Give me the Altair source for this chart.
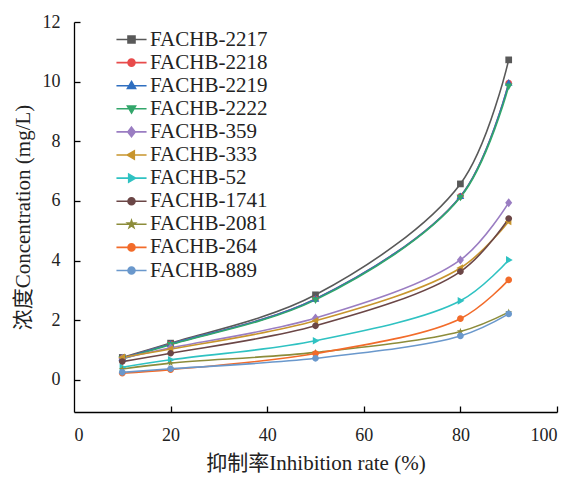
import altair as alt
import pandas as pd

rates = [10, 20, 50, 80, 90]
series = ["FACHB-2217", "FACHB-2218", "FACHB-2219", "FACHB-2222", "FACHB-359", "FACHB-333",
          "FACHB-52", "FACHB-1741", "FACHB-2081", "FACHB-264", "FACHB-889"]
values = {
    "FACHB-2217": [0.75, 1.23, 2.85, 6.57, 10.73],
    "FACHB-2218": [0.72, 1.20, 2.71, 6.15, 9.95],
    "FACHB-2219": [0.72, 1.20, 2.71, 6.15, 9.95],
    "FACHB-2222": [0.70, 1.18, 2.68, 6.12, 9.85],
    "FACHB-359": [0.72, 1.07, 2.07, 4.02, 5.94],
    "FACHB-333": [0.75, 1.03, 1.98, 3.75, 5.31],
    "FACHB-52": [0.42, 0.67, 1.31, 2.65, 4.02],
    "FACHB-1741": [0.61, 0.89, 1.81, 3.63, 5.41],
    "FACHB-2081": [0.36, 0.56, 0.92, 1.62, 2.27],
    "FACHB-264": [0.22, 0.34, 0.88, 2.05, 3.35],
    "FACHB-889": [0.25, 0.37, 0.72, 1.47, 2.21],
}
colors = ["#595959", "#e84b4b", "#2f6fc0", "#33a66b", "#9a7dc2", "#c8952d",
          "#2fc2c2", "#6b4646", "#8c8c3a", "#f26b2a", "#6a98cc"]

star = "M0,-1.1L0.25,-0.34L1.05,-0.34L0.4,0.13L0.65,0.9L0,0.42L-0.65,0.9L-0.4,0.13L-1.05,-0.34L-0.25,-0.34Z"
circle = "M1,0A1,1 0 1,1 -1,0A1,1 0 1,1 1,0Z"
marker_paths = [
    "M-1,-1L1,-1L1,1L-1,1Z",
    circle,
    "M0,-1.2L1.15,0.8L-1.15,0.8Z",
    "M0,1.2L1.15,-0.8L-1.15,-0.8Z",
    "M0,-1.35L1.05,0L0,1.35L-1.05,0Z",
    "M-1.2,0L0.8,-1.15L0.8,1.15Z",
    "M1.2,0L-0.8,-1.15L-0.8,1.15Z",
    circle,
    star,
    circle,
    circle,
]
legend_line = "M-4.3,0L4.3,0"
legend_paths = [legend_line + p for p in marker_paths]

y_ticks = [0, 2, 4, 6, 8, 10, 12]
x_ticks = [20, 40, 60, 80, 100]
x_labels = [0, 20, 40, 60, 80, 100]

rows = []
for s in series:
    for r, v in zip(rates, values[s]):
        rows.append({"rate": r, "conc": v, "series": s})
df = pd.DataFrame(rows)

FONT = "Liberation Serif, Noto Sans CJK SC, serif"

xs = alt.Scale(domain=[0, 100], nice=False, zero=False)
ys = alt.Scale(domain=[-1.08, 12], nice=False, zero=False)

x_main = alt.X("rate:Q", scale=xs, axis=alt.Axis(
    orient="bottom", values=x_labels, ticks=False, grid=False, labelPadding=14,
    title="抑制率Inhibition rate (%)", titlePadding=8, domainColor="#000", domainWidth=1.3))
y_main = alt.Y("conc:Q", scale=ys, axis=alt.Axis(
    orient="left", values=y_ticks, ticks=False, grid=False, labelPadding=14,
    title="浓度Concentration (mg/L)", titlePadding=9, domainColor="#000", domainWidth=1.3))

x_tick = alt.X("rate:Q", scale=xs, axis=alt.Axis(
    orient="top", offset=-390, values=x_ticks, labels=False, domain=False, grid=False,
    ticks=True, tickSize=6, tickColor="#000", tickWidth=1.3, title=None))
y_tick = alt.Y("conc:Q", scale=ys, axis=alt.Axis(
    orient="right", offset=-483, values=y_ticks, labels=False, domain=False, grid=False,
    ticks=True, tickSize=6, tickColor="#000", tickWidth=1.3, title=None))

lines = alt.Chart(df).mark_line(interpolate="catmull-rom", strokeWidth=1.6).encode(
    x=x_main, y=y_main,
    stroke=alt.Stroke("series:N", scale=alt.Scale(domain=series, range=colors), legend=None, sort=series),
    detail="series:N")

points = alt.Chart(df).mark_point(filled=True, size=45, opacity=1).encode(
    x=x_tick, y=y_tick,
    fill=alt.Fill("series:N", scale=alt.Scale(domain=series, range=colors), legend=None, sort=series),
    shape=alt.Shape("series:N", scale=alt.Scale(domain=series, range=marker_paths), legend=None, sort=series))

leg = alt.Legend(orient="none", legendX=33, legendY=7, title=None,
                 labelFont=FONT, labelFontSize=21, labelColor="#222", labelLimit=300,
                 symbolSize=49, symbolStrokeWidth=1.6, symbolOpacity=1, rowPadding=1.1,
                 labelOffset=8, symbolOffset=14)
legend_layer = alt.Chart(df).transform_filter("datum.conc < -100").mark_point(filled=True, opacity=1).encode(
    x=alt.X("rate:Q", scale=xs, axis=None),
    y=alt.Y("conc:Q", scale=ys, axis=None),
    fill=alt.Fill("series:N", scale=alt.Scale(domain=series, range=colors), legend=leg, sort=series),
    stroke=alt.Stroke("series:N", scale=alt.Scale(domain=series, range=colors), legend=leg, sort=series),
    shape=alt.Shape("series:N", scale=alt.Scale(domain=series, range=legend_paths), legend=leg, sort=series),
)

chart = alt.layer(lines, points, legend_layer).resolve_axis(
    x="independent", y="independent").resolve_scale(
    shape="independent", fill="independent", stroke="independent").properties(
    width=483, height=390, padding={"left": 4, "top": 5, "right": 5, "bottom": 5}).configure_view(
    stroke=None).configure_axis(
    labelFont=FONT, titleFont=FONT, labelFontSize=18, titleFontSize=21,
    labelColor="#222", titleColor="#222", titleFontWeight="normal").configure_legend(
    labelFont=FONT)

chart.save("out.html", embed_options={"renderer": "svg", "actions": False})
